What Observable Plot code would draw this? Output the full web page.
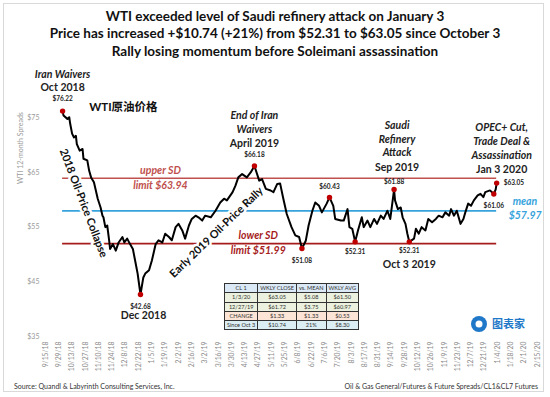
<!DOCTYPE html>
<html><head><meta charset="utf-8">
<script src="https://cdn.jsdelivr.net/npm/d3@7"></script>
<script src="https://cdn.jsdelivr.net/npm/@observablehq/plot@0.6"></script>
<style>
body{margin:0;background:#fff;}
#wrap{position:relative;width:550px;height:397px;overflow:hidden;background:#fff;font-family:Lato,"Noto Sans CJK SC",sans-serif;}
#frame{position:absolute;left:3px;top:3px;width:541px;height:389px;border:1px solid #d9d9d9;box-sizing:border-box;}
#title{position:absolute;left:0;top:8px;width:550px;text-align:center;font-weight:bold;font-size:13.5px;line-height:17.3px;color:#111;}
#chart{position:absolute;left:0;top:0;}
.foot{position:absolute;top:382px;font-size:7px;color:#333;white-space:nowrap;}
#tbl{position:absolute;left:224px;top:283px;border-collapse:collapse;border:1.3px solid #111;font-size:5.6px;color:#333;}
#tbl td{border:0.6px solid #333;height:8.3px;padding:0 2px;text-align:center;line-height:8px;white-space:nowrap;}
#logo{position:absolute;left:470px;top:314px;width:60px;height:20px;}
</style></head><body>
<div id="wrap">
<div id="frame"></div>
<div id="chart"></div>
<div id="title"></div>
<div id="tblHolder"></div>
<div class="foot" id="srcL" style="left:14px"></div>
<div class="foot" id="srcR" style="right:12px"></div>
<div id="logo"><svg width="60" height="20"><circle cx="9" cy="10" r="8" fill="#1f78c8"/><circle cx="9" cy="10" r="3.5" fill="#fff"/><text x="22" y="14" font-size="11" font-weight="bold" fill="#1f78c8" font-family="Noto Sans CJK SC">图表家</text></svg></div>
</div>
<script>
// ---------- data ----------
const titleLines = [
  "WTI exceeded level of Saudi refinery attack on January 3",
  "Price has increased +$10.74 (+21%) from $52.31 to $63.05 since October 3",
  "Rally losing momentum before Soleimani assassination"
];
const sourceLeft = "Source: Quandl & Labyrinth Consulting Services, Inc.";
const sourceRight = "Oil & Gas General/Futures & Future Spreads/CL1&CL7 Futures";
const seriesName = "WTI原油价格";
const yAxisTitle = "WTI 12-month Spreads";

const priceDates = [
"2018-10-03","2018-10-04","2018-10-08","2018-10-10","2018-10-11","2018-10-13","2018-10-15","2018-10-17","2018-10-18","2018-10-21",
"2018-10-24","2018-10-25","2018-10-29","2018-10-31","2018-11-02","2018-11-05","2018-11-07","2018-11-09","2018-11-12","2018-11-14",
"2018-11-15","2018-11-17","2018-11-19","2018-11-21","2018-11-22","2018-11-25","2018-11-28","2018-12-01","2018-12-05","2018-12-07",
"2018-12-10","2018-12-13","2018-12-16","2018-12-19","2018-12-21","2018-12-24","2018-12-27","2018-12-29","2019-01-02","2019-01-05",
"2019-01-09","2019-01-12","2019-01-16","2019-01-19","2019-01-23","2019-01-26","2019-01-30","2019-02-02","2019-02-06","2019-02-09",
"2019-02-13","2019-02-16","2019-02-20","2019-02-23","2019-02-27","2019-03-02","2019-03-08","2019-03-13","2019-03-18","2019-03-22",
"2019-03-25","2019-03-31","2019-04-03","2019-04-06","2019-04-10","2019-04-15","2019-04-19","2019-04-23","2019-04-28","2019-05-01",
"2019-05-05","2019-05-10","2019-05-13","2019-05-17","2019-05-20","2019-05-23","2019-05-27","2019-06-01","2019-06-05","2019-06-09",
"2019-06-12","2019-06-16","2019-06-19","2019-06-23","2019-06-26","2019-06-30","2019-07-03","2019-07-08","2019-07-11","2019-07-15",
"2019-07-17","2019-07-23","2019-07-26","2019-07-30","2019-08-01","2019-08-04","2019-08-07","2019-08-10","2019-08-14","2019-08-16",
"2019-08-20","2019-08-23","2019-08-27","2019-08-30","2019-09-03","2019-09-06","2019-09-10","2019-09-13","2019-09-17","2019-09-18",
"2019-09-21","2019-09-24","2019-09-26","2019-09-29","2019-10-01","2019-10-03","2019-10-08","2019-10-10","2019-10-13","2019-10-16",
"2019-10-20","2019-10-23","2019-10-27","2019-10-31","2019-11-03","2019-11-07","2019-11-10","2019-11-14","2019-11-16","2019-11-19",
"2019-11-22","2019-11-26","2019-11-29","2019-12-01","2019-12-04","2019-12-07","2019-12-10","2019-12-14","2019-12-17","2019-12-20",
"2019-12-22","2019-12-27","2019-12-31","2020-01-02","2020-01-03"];
const priceValues = [
76.22,75.4,74.8,75.1,73.9,72.1,71.4,71.7,70.2,69.0,
69.3,67.5,67.2,65.3,64.1,63.2,61.7,60.2,58.6,57.1,
56.8,55.0,55.3,52.6,51.0,51.9,50.7,52.2,53.2,52.2,
52.9,51.9,51.0,48.3,46.5,42.68,45.8,46.5,47.1,48.9,
51.9,52.6,52.2,53.8,53.2,52.6,55.0,55.6,54.4,52.9,
55.3,56.5,57.1,56.8,56.2,57.1,56.8,58.0,59.5,60.2,
59.9,61.4,62.6,64.1,64.7,64.1,65.0,66.18,63.5,63.8,
62.0,61.7,61.4,62.9,63.0,60.5,57.4,55.0,53.5,53.2,
51.08,52.5,55.3,58.0,59.5,58.9,57.7,59.3,60.43,58.9,
56.5,56.2,56.2,58.3,55.0,54.7,52.31,54.4,56.8,55.0,
56.2,55.0,56.5,55.6,57.1,56.5,58.0,56.5,61.88,59.9,
58.3,58.6,56.8,55.6,53.8,52.31,52.9,54.7,53.8,55.0,
54.4,56.5,55.9,56.5,57.1,56.8,57.7,57.1,58.3,57.1,
58.0,55.6,56.5,57.7,59.3,58.9,59.9,60.8,61.1,60.5,
61.4,61.72,61.06,61.9,63.05];

const markedDates = ["2018-10-03","2018-12-24","2019-04-23","2019-06-12","2019-07-11","2019-08-07","2019-09-17","2019-10-03","2019-12-31","2020-01-03"];

const statNames = ["upper SD", "mean", "lower SD"];
const statValues = [63.94, 57.97, 51.99];

const yTicks = [35, 45, 55, 65, 75];
const xTickLabels = ["9/15/18","9/29/18","10/13/18","10/27/18","11/10/18","11/24/18","12/8/18","12/22/18",
"1/5/19","1/19/19","2/2/19","2/16/19","3/2/19","3/16/19","3/30/19","4/13/19","4/27/19","5/11/19","5/25/19",
"6/8/19","6/22/19","7/6/19","7/20/19","8/3/19","8/17/19","8/31/19","9/14/19","9/28/19","10/12/19","10/26/19",
"11/9/19","11/23/19","12/7/19","12/21/19","1/4/20","1/18/20","2/1/20","2/15/20"];

const tableHeader = ["CL 1", "WKLY CLOSE", "vs. MEAN", "WKLY AVG"];
const tableRows = [
  ["1/3/20", "$63.05", "$5.08", "$61.50"],
  ["12/27/19", "$61.72", "$3.75", "$60.97"],
  ["CHANGE", "$1.33", "$1.33", "$0.53"],
  ["Since Oct 3", "$10.74", "21%", "$8.30"]
];

// ---------- page text ----------
document.getElementById("title").innerHTML = titleLines.map(t => `<div>${t.replace(/&/g,"&amp;")}</div>`).join("");
document.getElementById("srcL").textContent = sourceLeft;
document.getElementById("srcR").textContent = sourceRight;
const rowBg = ["#dbe9f6", "#ebf1de", "#ebf1de", "#fce4d6", "#dbeef4"];
let th = `<table id="tbl"><tr>${tableHeader.map(h=>`<td style="background:${rowBg[0]}">${h}</td>`).join("")}</tr>`;
tableRows.forEach((r,i)=>{ th += `<tr>${r.map(c=>`<td style="background:${rowBg[i+1]}">${c}</td>`).join("")}</tr>`; });
th += "</table>";
document.getElementById("tblHolder").innerHTML = th;

// ---------- chart ----------
const parse = d3.utcParse("%Y-%m-%d");
const data = priceDates.map((d,i)=>({date: parse(d), price: priceValues[i]}));
const byDate = new Map(data.map(d=>[+d.date, d]));
const marked = markedDates.map(d => byDate.get(+parse(d)));
const tickDates = xTickLabels.map(d3.utcParse("%m/%d/%y"));
const ext = d3.extent(data, d=>d.date);
const stats = statNames.map((n,i)=>({name:n, value:statValues[i], x1:ext[0], x2:ext[1]}));
const fmtTick = d => `${d.getUTCMonth()+1}/${d.getUTCDate()}/${String(d.getUTCFullYear()).slice(2)}`;
const money = v => "$" + v.toFixed(2);

const RED = "#c00000", UPRED = "#c0504d", LORED = "#a61c1c", BLUE = "#36a3dc";
const statColor = {"upper SD": UPRED, "mean": BLUE, "lower SD": LORED};

function at(dateStr, value) { return [{date: parse(dateStr), v: value}]; }
function label(pt, text, o) {
  return Plot.text([pt], {x:"date", y: o.y ?? "price", text: () => text, dx:o.dx||0, dy:o.dy||0,
    fontSize:o.size||6.5, fontWeight:o.weight||"bold", fontStyle:o.style||"normal",
    fill:o.fill||"#222", textAnchor:o.anchor||"middle", lineAnchor:"middle"});
}
const m = i => marked[i];
const endPt = data[data.length-1];

const eventMarks = [
  label(m(0), money(m(0).price), {dy:-12}),
  label(m(0), "Oct 2018", {dy:-23, size:10.5}),
  label(m(0), "Iran Waivers", {dy:-36, size:10.5, style:"italic"}),
  label(m(1), money(m(1).price), {dy:12}),
  label(m(1), "Dec 2018", {dy:21, dx:3, size:10.5}),
  label(m(2), money(m(2).price), {dy:-11.5}),
  label(m(2), "April 2019", {dy:-22.5, size:10.5}),
  label(m(2), "Waivers", {dy:-36.5, size:10.5, style:"italic"}),
  label(m(2), "End of Iran", {dy:-50, size:10.5, style:"italic"}),
  label(m(3), money(m(3).price), {dy:12}),
  label(m(4), money(m(4).price), {dy:-10.5}),
  label(m(5), money(m(5).price), {dy:10}),
  label(m(6), money(m(6).price), {dy:-7.5}),
  label(m(6), "Sep 2019", {dy:-22, dx:3, size:10.5}),
  label(m(6), "Attack", {dy:-36.5, dx:3, size:10.5, style:"italic"}),
  label(m(6), "Refinery", {dy:-50, dx:3, size:10.5, style:"italic"}),
  label(m(6), "Saudi", {dy:-64, dx:3, size:10.5, style:"italic"}),
  label(m(7), money(m(7).price), {dy:9}),
  label(m(7), "Oct 3 2019", {dy:23, size:10.5}),
  label(m(8), money(m(8).price), {dy:12}),
  label(m(9), money(m(9).price), {dx:7, anchor:"start"}),
  label(m(9), "Jan 3 2020", {dy:-13.5, dx:5, size:10.5}),
  label(m(9), "Assassination", {dy:-27.5, dx:5, size:10.5, style:"italic"}),
  label(m(9), "Trade Deal &", {dy:-41.5, dx:5, size:10.5, style:"italic"}),
  label(m(9), "OPEC+ Cut,", {dy:-55.5, dx:5, size:10.5, style:"italic"}),
];

const statLabel = (i, dateStr, lines, fill, anchor, dx) => [
  Plot.text(at(dateStr, stats[i].value), {x:"date", y:"v", text:()=>lines[0], dy:-7.5, dx:dx||0, fontSize:10.5, fontWeight:"bold", fontStyle:"italic", fill, textAnchor:anchor||"middle"}),
  Plot.text(at(dateStr, stats[i].value), {x:"date", y:"v", text:()=>lines[1], dy:7, dx:dx||0, fontSize:10.5, fontWeight:"bold", fontStyle:"italic", fill, textAnchor:anchor||"middle"})
];

const chart = Plot.plot({
  width:550, height:397,
  marginLeft:45, marginRight:13, marginTop:62.6, marginBottom:61,
  style:{fontFamily:"Lato, 'Noto Sans CJK SC', sans-serif", background:"transparent", overflow:"visible"},
  x:{type:"utc", domain:[tickDates[0], tickDates[tickDates.length-1]]},
  y:{domain:[35,85]},
  marks:[
    Plot.axisY({ticks:yTicks, tickFormat:d=>"$"+d, tickSize:0, tickPadding:6, fontSize:7, color:"#9a9a9a", label:null}),
    Plot.axisX({ticks:tickDates, tickFormat:fmtTick, tickSize:0, tickPadding:5, tickRotate:-90, fontSize:6.8, color:"#8a8a8a", label:null}),
    Plot.text([yAxisTitle], {frameAnchor:"left", y:()=>62.9, text:d=>d, rotate:-90, dx:-25, fontSize:7, fill:"#9a9a9a"}),
    ...stats.map(s => Plot.ruleY([s], {y:"value", x1:"x1", x2:"x2", stroke:statColor[s.name], strokeWidth:1.6})),
    Plot.text(at("2018-10-25", 59.4), {x:"date", y:"v", text:()=>"2018 Oil-Price Collapse", rotate:69, fontSize:11, fontWeight:"bold", fill:"#111", stroke:"white", strokeWidth:5}),
    Plot.text(at("2019-03-14", 54.05), {x:"date", y:"v", text:()=>"Early 2019 Oil-Price Rally", rotate:-44, fontSize:11, fontWeight:"bold", fill:"#111", stroke:"white", strokeWidth:5}),
    Plot.line(data, {x:"date", y:"price", stroke:"#000", strokeWidth:2, curve:"linear"}),
    Plot.dot(marked, {x:"date", y:"price", r:2.7, fill:RED}),
    ...eventMarks,
    ...statLabel(0, "2019-01-14", ["upper SD", "limit " + money(statValues[0])], UPRED),
    ...statLabel(2, "2019-04-27", ["lower SD", "limit " + money(statValues[2])], LORED),
    Plot.text([endPt], {x:"date", y:()=>statValues[1], text:()=>"mean", dx:16, dy:-9, fontSize:10.5, fontWeight:"bold", fontStyle:"italic", fill:BLUE, textAnchor:"start"}),
    Plot.text([endPt], {x:"date", y:()=>statValues[1], text:()=>money(statValues[1]), dx:12, dy:5, fontSize:10.5, fontWeight:"bold", fontStyle:"italic", fill:BLUE, textAnchor:"start"}),
    Plot.text(at("2018-12-06", 76.9), {x:"date", y:"v", text:()=>seriesName, fontSize:11.5, fontWeight:"bold", fill:"#111"})
  ]
});
document.getElementById("chart").appendChild(chart);
</script>
</body></html>
